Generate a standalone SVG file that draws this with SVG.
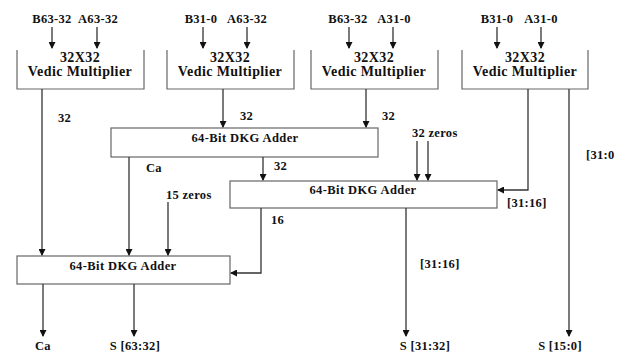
<svg xmlns="http://www.w3.org/2000/svg" width="625" height="355" viewBox="0 0 625 355">
<style>
text{font-family:"Liberation Serif","Times New Roman",serif;font-weight:bold;fill:#111;}
.lbl{font-size:12.5px;letter-spacing:0.3px;}
.box{fill:#fff;stroke:#666;stroke-width:1.2;}
.obox{fill:none;stroke:#666;stroke-width:1.2;}
.bt{font-size:14px;text-anchor:middle;letter-spacing:0.4px;}
.at{font-size:12.5px;text-anchor:middle;letter-spacing:0.4px;}
.ln{fill:none;stroke:#333;stroke-width:1.3;}
</style>
<defs>
<marker id="ah" markerWidth="7" markerHeight="7" refX="6" refY="3.5" orient="auto" markerUnits="userSpaceOnUse">
<path d="M0,0 L7,3.5 L0,7 Z" fill="#111"/>
</marker>
</defs>
<rect width="625" height="355" fill="#fff"/>
<g id="mult1">
<path class="obox" d="M17,50 V89 H144 V50"/>
<text class="bt" x="80" y="62">32X32</text>
<text class="bt" x="80" y="76">Vedic Multiplier</text>
</g>
<g id="mult2">
<path class="obox" d="M167,50 V89 H294 V50"/>
<text class="bt" x="230" y="62">32X32</text>
<text class="bt" x="230" y="76">Vedic Multiplier</text>
</g>
<g id="mult3">
<path class="obox" d="M311,50 V89 H438 V50"/>
<text class="bt" x="374" y="62">32X32</text>
<text class="bt" x="374" y="76">Vedic Multiplier</text>
</g>
<g id="mult4">
<path class="obox" d="M462,50 V89 H588 V50"/>
<text class="bt" x="525" y="62">32X32</text>
<text class="bt" x="525" y="76">Vedic Multiplier</text>
</g>
<g id="adder1">
<rect class="box" x="111" y="128" width="267" height="29"/>
<text class="at" x="245" y="142">64-Bit DKG Adder</text>
</g>
<g id="adder2">
<rect class="box" x="230" y="181" width="267" height="27"/>
<text class="at" x="363" y="194">64-Bit DKG Adder</text>
</g>
<g id="adder3">
<rect class="box" x="17" y="256" width="213" height="28"/>
<text class="at" x="123" y="270">64-Bit DKG Adder</text>
</g>
<g id="connectors">
<path class="ln" d="M52,27 V48" marker-end="url(#ah)"/>
<path class="ln" d="M97,27 V48" marker-end="url(#ah)"/>
<path class="ln" d="M203,27 V48" marker-end="url(#ah)"/>
<path class="ln" d="M247,27 V48" marker-end="url(#ah)"/>
<path class="ln" d="M349,27 V48" marker-end="url(#ah)"/>
<path class="ln" d="M393,27 V48" marker-end="url(#ah)"/>
<path class="ln" d="M497,27 V48" marker-end="url(#ah)"/>
<path class="ln" d="M541,27 V48" marker-end="url(#ah)"/>
<path class="ln" d="M42,89 V255" marker-end="url(#ah)"/>
<path class="ln" d="M223,89 V127" marker-end="url(#ah)"/>
<path class="ln" d="M366,89 V127" marker-end="url(#ah)"/>
<path class="ln" d="M528,89 V190 H498" marker-end="url(#ah)"/>
<path class="ln" d="M569,89 V336" marker-end="url(#ah)"/>
<path class="ln" d="M263,157 V180" marker-end="url(#ah)"/>
<path class="ln" d="M417,141 V180" marker-end="url(#ah)"/>
<path class="ln" d="M428,141 V180" marker-end="url(#ah)"/>
<path class="ln" d="M129,157 V255" marker-end="url(#ah)"/>
<path class="ln" d="M168,202 V255" marker-end="url(#ah)"/>
<path class="ln" d="M261,208 V273 H231" marker-end="url(#ah)"/>
<path class="ln" d="M406,208 V336" marker-end="url(#ah)"/>
<path class="ln" d="M43,284 V336" marker-end="url(#ah)"/>
<path class="ln" d="M134,284 V336" marker-end="url(#ah)"/>
</g>
<g id="labels">
<text class="lbl" x="52" y="23" text-anchor="middle">B63-32</text>
<text class="lbl" x="98" y="23" text-anchor="middle">A63-32</text>
<text class="lbl" x="201" y="23" text-anchor="middle">B31-0</text>
<text class="lbl" x="247" y="23" text-anchor="middle">A63-32</text>
<text class="lbl" x="348" y="23" text-anchor="middle">B63-32</text>
<text class="lbl" x="394" y="23" text-anchor="middle">A31-0</text>
<text class="lbl" x="497" y="23" text-anchor="middle">B31-0</text>
<text class="lbl" x="541" y="23" text-anchor="middle">A31-0</text>
<text class="lbl" x="58" y="122">32</text>
<text class="lbl" x="240" y="120">32</text>
<text class="lbl" x="382" y="120">32</text>
<text class="lbl" x="146" y="172">Ca</text>
<text class="lbl" x="274" y="170">32</text>
<text class="lbl" x="412" y="137">32 zeros</text>
<text class="lbl" x="586" y="159">[31:0</text>
<text class="lbl" x="507" y="207">[31:16]</text>
<text class="lbl" x="166" y="199">15 zeros</text>
<text class="lbl" x="271" y="224">16</text>
<text class="lbl" x="420" y="268">[31:16]</text>
<text class="lbl" x="43" y="350" text-anchor="middle">Ca</text>
<text class="lbl" x="135" y="350" text-anchor="middle">S [63:32]</text>
<text class="lbl" x="425" y="350" text-anchor="middle">S [31:32]</text>
<text class="lbl" x="560" y="350" text-anchor="middle">S [15:0]</text>
</g>
</svg>
